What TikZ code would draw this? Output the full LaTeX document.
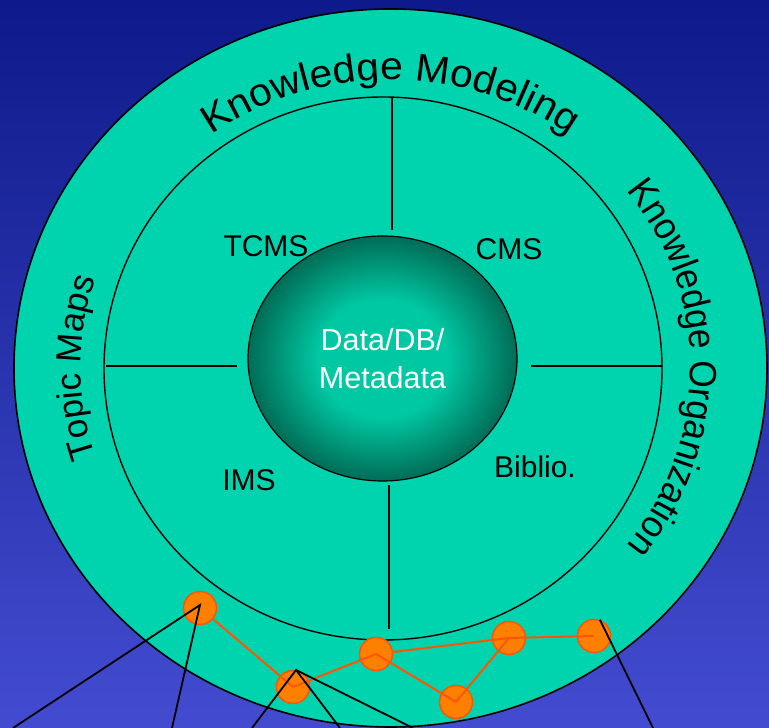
\documentclass[tikz,border=0pt]{standalone}
\usepackage{fontspec}
\setmainfont{Liberation Sans}
\newfontfamily\kmfont[FakeStretch=1.05]{Liberation Sans}
\newfontfamily\kofont[FakeStretch=0.93]{Liberation Sans}
\usetikzlibrary{decorations.text,shapes.geometric}
\definecolor{bgtop}{RGB}{14,26,138}
\definecolor{bgbot}{RGB}{67,76,208}
\definecolor{ringteal}{RGB}{0,212,174}
\definecolor{coredark}{RGB}{0,108,86}
\definecolor{corelight}{RGB}{0,200,162}
\definecolor{dotfill}{RGB}{255,128,0}
\definecolor{dotline}{RGB}{255,85,0}
\pgfdeclareradialshading{coreshade}{\pgfpoint{0bp}{0bp}}{color(0bp)=(corelight); color(12bp)=(corelight); color(25bp)=(coredark); color(50bp)=(coredark)}
\begin{document}
\begin{tikzpicture}[x=1pt,y=1pt,
  divider/.style={draw=black, line width=1.3},
  lbl/.style={inner sep=0pt, font=\fontsize{30}{30}\selectfont, text=black},
  dot/.style={circle, minimum size=33pt, inner sep=0pt, fill=dotfill, draw=dotline, line width=1.5},
  orangeline/.style={draw=dotline, line width=2},
  blackline/.style={draw=black, line width=1.8},
  arctext/.style={decorate, decoration={text along path, text align=center, text={#1}}}
]
\useasboundingbox (0,0) rectangle (769,728);
\shade[top color=bgtop, bottom color=bgbot] (0,0) rectangle (769,728);
% outer ring
\filldraw[fill=ringteal, draw=black, line width=1.6] (390.5,360) ellipse [x radius=376.5, y radius=359];
% inner circle
\draw[line width=1.4] (383,359.5) ellipse [x radius=279, y radius=271.5];
% dividers
\draw[divider] (392,631) -- (392,498);
\draw[divider] (106,362) -- (237,362);
\draw[divider] (531,362) -- (662,362);
\draw[divider] (389,243) -- (389,99);
% core
\node[ellipse, minimum width=269pt, minimum height=245pt, inner sep=0pt, shade, shading=coreshade, draw=black, line width=1.2,
      text=white, align=center, font=\fontsize{30.5}{38}\selectfont] (core) at (382.5,369.5) {Data/DB/\\Metadata};
% quadrant labels
\node[lbl] (tcms) at (266,482) {TCMS};
\node[lbl] (cms) at (509,479) {CMS};
\node[lbl] (ims) at (249,248) {IMS};
\node[lbl] (biblio) at (535,261) {Biblio.};
% curved ring texts
\path[arctext={|\kmfont\fontsize{39}{39}\selectfont|Knowledge Modeling}] (390.5,360) ++(180:304 and 288) arc [start angle=180, end angle=0, x radius=304, y radius=288];
\path[arctext={|\kofont\fontsize{38}{38}\selectfont|Knowledge Organization}] (390.5,360) ++(90:300 and 288) arc [start angle=90, end angle=-90, x radius=300, y radius=288];
\path[arctext={|\fontsize{35}{35}\selectfont|Topic Maps}] (390.5,360) ++(270:310 and 288) arc [start angle=270, end angle=90, x radius=310, y radius=288];
% network dots
\node[dot] (A) at (200,120) {};
\node[dot] (B) at (293,41) {};
\node[dot] (C) at (376,74) {};
\node[dot] (D) at (456,26) {};
\node[dot] (E) at (509,90) {};
\node[dot] (F) at (594,92) {};
% orange links
\draw[orangeline] (A) -- (B.center);
\draw[orangeline] (B.center) -- (C.center);
\draw[orangeline] (C) -- (E.center);
\draw[orangeline] (C.center) -- (D.center);
\draw[orangeline] (D.center) -- (E.center);
\draw[orangeline] (E.center) -- (F.center);
% black leader lines
\coordinate (a1) at (13,0);
\coordinate (a2) at (172,0);
\coordinate (b1) at (252,0);
\coordinate (b2) at (340,0);
\coordinate (b3) at (413,0);
\coordinate (f1) at (653,0);
\draw[blackline] (a1) -- ([yshift=3pt]A.center) -- (a2);
\draw[blackline] (b1) -- (B.80) -- (b2);
\draw[blackline] (B.80) -- (b3);
\draw[blackline] (F.70) -- (f1);
\end{tikzpicture}
\end{document}
